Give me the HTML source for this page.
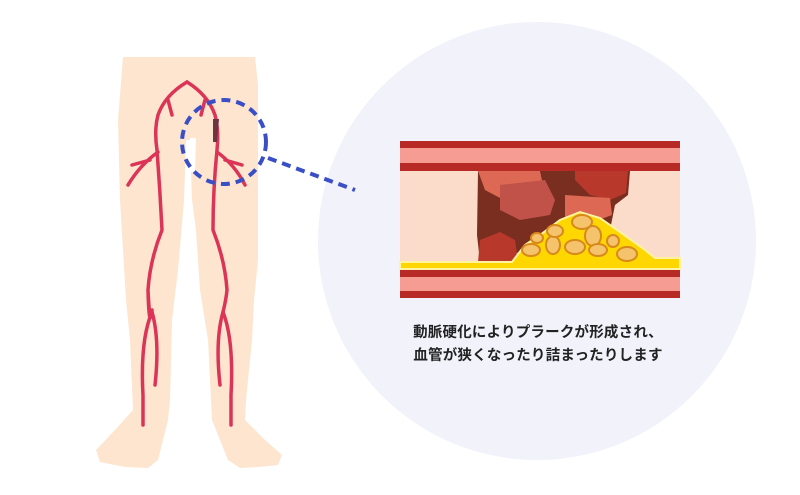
<!DOCTYPE html>
<html><head><meta charset="utf-8"><style>
body{margin:0;width:800px;height:495px;background:#fff;overflow:hidden;position:relative}
.t{position:absolute;left:338px;width:400px;text-align:center;font:bold 14.5px "Liberation Sans","Noto Sans CJK JP",sans-serif;color:#222;letter-spacing:0.2px}
</style></head><body>
<svg width="800" height="495" style="position:absolute;left:0;top:0">
<circle cx="537" cy="241" r="219" fill="#f1f2fa"/>
<g fill="#fde5cf">
<path d="M123,57 L255,57 L258,85 L258,260 L254,300 L252,340 L246,400 L245,420 L265,440 L282,455 L278,465 L260,467 L240,468 L228,460 L212,420 L208,340 L200,290 L196,230 L192,200 L190,140 L186,140 L184,200 L178,270 L172,320 L170,400 L168,420 L158,460 L148,468 L125,467 L100,462 L96,450 L115,430 L133,410 L130,340 L126,300 L120,200 L118,120 Z"/>
</g>
<g fill="none" stroke="#dc3456" stroke-width="3.5" stroke-linecap="round" stroke-linejoin="round">
<path d="M187,82 Q165,95 158,115 Q154,130 157,150 Q160,190 162,230 Q150,260 148,290 Q150,330 152,310 M148,290 Q149,330 152,312 Q140,340 143,395 L143,425"/>
<path d="M187,82 Q208,95 215,115 Q219,130 217,150 Q213,190 213,230 Q225,260 227,290 Q226,300 223,312 Q234,340 231,395 L231,425"/>
<path d="M152,312 Q160,340 155,385"/>
<path d="M223,312 Q215,340 220,385"/>
<path d="M158,152 Q140,165 128,185 M150,160 L132,165"/>
<path d="M217,152 Q235,165 245,185 M225,160 L242,165"/>
<path d="M168,100 L172,115 M205,100 L201,115"/>
</g>
<path d="M213,119 L219,119 L217,142 L213,142 Z" fill="#6e3442"/>
<path d="M190,138 L196,138 L195,172 L190,172 Z" fill="#fff"/>
<g fill="none" stroke="#3a4fc6" stroke-width="4" stroke-dasharray="9 6">
<circle cx="224" cy="142" r="42"/>
<path d="M268,158 L355,190"/>
</g>
<rect x="400" y="141" width="280" height="157" fill="#fbdccb"/>
<rect x="400" y="141" width="280" height="30" fill="#b82a25"/>
<rect x="400" y="148" width="280" height="15" fill="#f79c92"/>
<rect x="400" y="269" width="280" height="29" fill="#b82a25"/>
<rect x="400" y="277" width="280" height="14" fill="#f79c92"/>
<path d="M478,171 L630,171 L628,195 L615,205 L610,230 L480,262 L477,235 Z" fill="#7a2e20"/>
<path d="M478,171 L540,171 L545,195 L500,198 L485,190 Z" fill="#dd6853"/>
<path d="M575,171 L628,171 L626,193 L610,200 L590,195 L575,180 Z" fill="#b8382b"/>
<path d="M500,185 L545,180 L555,200 L550,215 L520,220 L500,210 Z" fill="#c1524a"/>
<path d="M565,195 L610,198 L612,215 L585,225 L565,218 Z" fill="#dd6853"/>
<path d="M480,240 L500,232 L515,240 L518,262 L478,262 Z" fill="#b8382b"/>
<path d="M400,262 L512,262 L525,245 L540,235 L560,220 L580,212 L600,218 L620,232 L645,250 L655,258 L680,258 L680,269 L400,269 Z" fill="#ffd700" stroke="#fff2a0" stroke-width="2"/>
<g fill="#f5c36b" stroke="#d8891c" stroke-width="2">
<ellipse cx="531" cy="250" rx="9" ry="6"/><ellipse cx="553" cy="245" rx="7" ry="9"/><ellipse cx="555" cy="231" rx="8" ry="6"/>
<ellipse cx="575" cy="247" rx="10" ry="7"/><ellipse cx="582" cy="222" rx="10" ry="7"/><ellipse cx="593" cy="236" rx="8" ry="10"/>
<ellipse cx="598" cy="250" rx="9" ry="6"/><ellipse cx="613" cy="241" rx="6" ry="6"/><ellipse cx="627" cy="254" rx="10" ry="7"/>
<ellipse cx="537" cy="238" rx="6" ry="5"/>
</g>
</svg>
<div class="t" style="top:321px">動脈硬化によりプラークが形成され、</div>
<div class="t" style="top:344px">血管が狭くなったり詰まったりします</div>
</body></html>
